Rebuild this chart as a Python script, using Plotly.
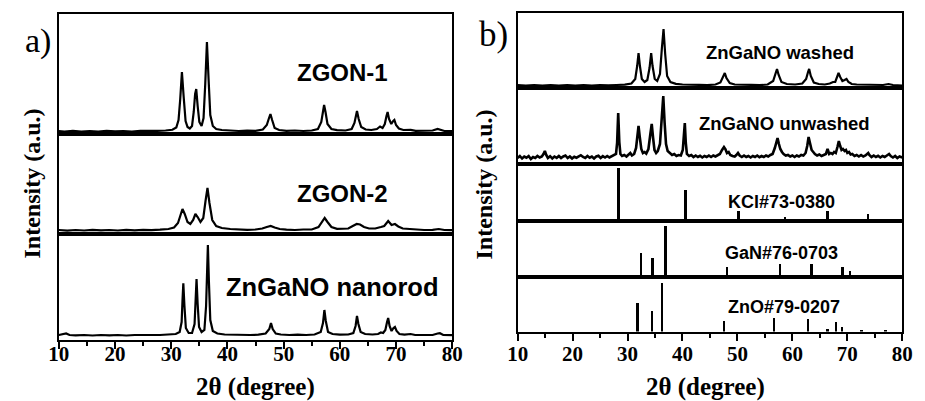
import plotly.graph_objects as go

# ---------------- data (2theta, intensity a.u.) ----------------
zgon1 = [(10,1),(11,0.5),(12.5,1.2),(14,0.4),(15.5,1),(17,0.5),(18.5,1.2),(20,0.6),(21.5,1),(23,0.5),(24.5,1.2),(26,0.8),(27.5,1.1),(29,1.5),(30.2,2.2),(30.9,4.5),(31.3,12),(31.6,33),(31.9,60),(32.2,36),(32.55,11),(32.9,5),(33.3,3.5),(33.7,6),(34.0,20),(34.25,38),(34.45,43),(34.7,26),(35.0,10),(35.4,6),(35.75,14),(36.05,48),(36.35,90),(36.65,52),(36.95,17),(37.4,6),(38.0,3),(39,2),(40.5,1.2),(42,1),(43.5,1.4),(45,1.2),(46.3,2.5),(47.0,7),(47.4,14),(47.65,18),(47.95,12),(48.4,4),(49.2,2),(50.5,1.2),(52,1.5),(53.5,1),(55,1.5),(56.1,3),(56.7,10),(57.0,20),(57.2,27),(57.45,20),(57.8,8),(58.5,3),(59.5,1.8),(61,1.5),(62.1,3),(62.6,9),(62.9,18),(63.05,21),(63.35,13),(63.8,5),(64.6,2.5),(65.6,2),(66.6,3),(67.15,5.5),(67.6,4),(68.0,8),(68.3,16),(68.5,20),(68.75,13),(69.15,8),(69.5,11),(69.7,12),(70.0,7),(70.5,3.5),(71.3,2),(72.6,2.2),(73.5,1.2),(75,1),(76.5,1.5),(77.4,3),(77.8,2.5),(78.6,1),(80,0.8)]

zgon2 = [(10,1),(11.5,0.4),(13,1),(14.5,0.5),(16,1.2),(17.5,0.6),(19,1),(20.5,0.5),(22,1.1),(23.5,0.6),(25,1.2),(26.5,0.8),(28,1.3),(29.5,2),(30.5,3.5),(31.2,8),(31.6,15),(32.0,22),(32.4,17),(32.9,9),(33.4,7),(33.9,11),(34.3,17),(34.7,14),(35.2,9),(35.7,13),(36.1,30),(36.45,43),(36.8,28),(37.3,11),(38.0,5),(39,3),(40.5,2),(42,1.5),(43.5,1.2),(45,1.5),(46.2,2.5),(47.0,4),(47.7,5),(48.4,3.5),(49.3,2),(50.5,1.3),(52,1),(53.5,1.5),(55,1.5),(56.2,4),(56.8,9),(57.3,13),(57.8,9),(58.5,4),(59.5,2.2),(60.5,2),(61.5,2.5),(62.3,5),(63.0,7),(63.6,6.5),(64.3,4),(65.2,2.5),(66.3,2.5),(67.3,4),(67.9,5),(68.6,10),(69.2,6),(69.8,7),(70.4,4.5),(71.2,2.5),(72.4,2),(73.5,1.2),(75,1),(76.5,1.2),(77.6,2),(78.6,1),(80,0.8)]

nanorod = [(10,1),(10.7,1.5),(11.3,2.5),(11.9,1),(13,0.6),(14.5,1),(16,0.5),(17.5,1),(19,0.6),(20.5,1),(22,0.5),(23.5,1),(25,0.7),(26.5,1),(28,1),(29.5,1.3),(30.8,2),(31.5,4),(31.85,14),(32.0,35),(32.15,52.7),(32.35,30),(32.6,8),(33.1,3),(33.7,3),(34.15,12),(34.35,38),(34.5,57),(34.7,32),(34.95,9),(35.4,4),(35.9,6),(36.2,30),(36.4,65),(36.52,91),(36.7,55),(36.95,16),(37.4,5),(38.2,2.5),(39.5,1.5),(41,1.2),(42.5,1),(44,1),(45.5,1.3),(46.8,2.5),(47.45,7),(47.75,13),(48.05,7),(48.6,2.5),(49.5,1.5),(51,1),(52.5,1.3),(54,1),(55.5,1.5),(56.6,4),(57.0,13),(57.25,26),(57.5,15),(57.9,4),(58.7,2),(60,1.3),(61.5,1.5),(62.4,3),(62.8,10),(63.05,20),(63.3,12),(63.7,4),(64.5,2),(65.8,1.5),(66.8,2),(67.3,3.5),(67.7,3),(68.1,6),(68.4,14),(68.6,18),(68.85,10),(69.2,5),(69.55,8),(69.8,9),(70.1,5),(70.6,2),(71.5,1.3),(72.6,2),(73.4,1),(75,0.8),(76.5,1),(77.4,2.5),(77.8,2.8),(78.4,1),(80,0.8)]

washed = [(10,0.8),(11.5,0.3),(13,1),(14.5,0.5),(16,1),(17.5,0.4),(19,0.8),(20.5,0.3),(22,1),(23.5,0.5),(25,1),(26.5,0.6),(28,1),(29.5,1.3),(30.7,2.5),(31.4,7),(31.75,20),(32.0,33),(32.25,20),(32.6,7),(33.1,4),(33.6,6),(34.0,18),(34.3,33),(34.55,20),(34.95,7),(35.4,5),(35.9,12),(36.25,38),(36.55,57),(36.85,32),(37.2,10),(37.8,4),(38.8,2.2),(40,1.5),(41.5,1),(43,1.2),(44.5,0.8),(46,1.5),(46.9,3.5),(47.4,9),(47.7,13),(48.0,8),(48.6,3),(49.5,1.5),(51,1),(52.5,1.2),(54,0.8),(55.5,1.5),(56.5,5),(56.95,13),(57.2,17),(57.5,11),(58.0,4),(59,2),(60.5,1.5),(61.8,2.5),(62.5,7),(62.85,14),(63.05,17),(63.35,10),(63.9,3.5),(64.8,2),(65.9,1.5),(66.8,2.5),(67.4,4),(67.8,4),(68.15,9),(68.4,13),(68.7,9),(69.1,5),(69.5,6),(69.85,7),(70.2,4),(70.8,2),(71.7,1.5),(72.6,1.5),(73.5,1),(75,0.8),(76.5,1),(77.5,2),(78.3,1),(80,0.5)]

unwashed = [(10,0),(10.4,2),(10.8,-0.5),(11.2,1.5),(11.6,0.3),(12.0,2),(12.4,-1),(12.8,1),(13.2,0),(13.6,2),(14.0,0.5),(14.4,1.5),(14.7,4),(14.95,7),(15.2,3),(15.5,0),(15.9,1.8),(16.3,-0.5),(16.7,1.5),(17.1,0.2),(17.5,2),(17.9,0),(18.3,1.5),(18.7,2.5),(19.1,0),(19.5,1.5),(19.9,-0.5),(20.3,1.2),(20.7,0.3),(21.1,1.8),(21.5,2.8),(21.9,1),(22.3,0),(22.7,2),(23.1,0.3),(23.5,1.5),(23.9,-0.5),(24.3,1.5),(24.7,2.2),(25.1,0),(25.5,1.8),(25.9,0.5),(26.3,2),(26.7,0.5),(27.1,1.8),(27.5,2.5),(27.9,4),(28.1,15),(28.3,45),(28.5,16),(28.7,4),(29.0,2),(29.4,3),(29.8,1.5),(30.2,3.5),(30.5,5),(30.8,2.5),(31.2,4),(31.55,10),(31.8,22),(32.0,32),(32.2,22),(32.5,9),(32.8,5),(33.1,6),(33.4,4.5),(33.8,9),(34.15,24),(34.4,34),(34.65,20),(34.9,8),(35.2,5),(35.5,7),(35.9,14),(36.25,40),(36.5,62),(36.75,35),(37.0,14),(37.3,7),(37.7,5),(38.1,3),(38.5,4),(38.9,2),(39.3,3),(39.7,2.5),(40.05,8),(40.25,22),(40.42,35),(40.6,15),(40.8,4),(41.2,2),(41.6,3),(42.0,1),(42.4,2.5),(42.8,1),(43.2,2.2),(43.6,0.5),(44.0,2),(44.4,1),(44.8,2.5),(45.2,1),(45.6,2.5),(46.0,1.5),(46.4,3),(46.8,4),(47.2,8),(47.55,11),(47.8,9),(48.1,5),(48.4,6),(48.7,3),(49.1,2),(49.5,1.5),(49.8,3),(50.1,5),(50.4,2.5),(50.8,1),(51.2,2.5),(51.6,1),(52.0,2),(52.4,0.5),(52.8,2),(53.2,1),(53.6,2.5),(54.0,0.8),(54.4,2),(54.8,1),(55.2,2.5),(55.6,1.5),(56.0,3),(56.4,4),(56.8,10),(57.1,17),(57.3,20),(57.55,14),(57.8,9),(58.1,6),(58.4,4),(58.8,2.5),(59.2,3),(59.6,1.5),(60.0,2.5),(60.4,1),(60.8,2.5),(61.2,1.5),(61.6,3),(62.0,2.5),(62.4,5),(62.7,12),(62.95,21),(63.2,15),(63.5,8),(63.8,6),(64.1,4),(64.5,2.5),(64.9,3.5),(65.3,2),(65.7,3),(66.1,4),(66.4,9),(66.7,4),(67.0,5),(67.3,4),(67.6,6),(67.9,5),(68.2,11),(68.45,17),(68.7,12),(68.95,8),(69.2,9),(69.5,7),(69.75,8),(70.0,5),(70.3,6),(70.6,3.5),(70.9,4),(71.3,2),(71.7,3),(72.1,1.5),(72.5,3),(72.9,1.5),(73.3,2.5),(73.6,4),(73.8,5),(74.0,3),(74.4,1),(74.8,2.5),(75.2,1),(75.6,2.2),(76.0,0.5),(76.4,2),(76.8,1),(77.2,2.5),(77.6,4),(77.9,2),(78.3,0.5),(78.7,2),(79.1,0),(79.5,1.5),(80,0.5)]

# reference stick patterns (JCPDS)
kcl_pos = [24.5, 28.35, 40.5, 50.2, 58.65, 66.4, 73.75]
kcl_int = [1, 53, 31.5, 10, 4, 10, 7]
gan_pos = [32.4, 34.55, 36.85, 48.1, 57.75, 63.45, 67.8, 69.1, 70.5, 72.9, 78.4]
gan_int = [24, 19, 51, 10, 13, 13, 2, 10, 6, 1, 2]
zno_pos = [31.75, 34.4, 36.25, 47.5, 56.6, 62.85, 66.35, 67.95, 69.05, 72.55, 76.95]
zno_int = [29, 21, 49, 11, 14, 12.5, 3, 10, 5, 1, 2]

labels_a = ["ZGON-1", "ZGON-2", "ZnGaNO nanorod"]
labels_b = ["ZnGaNO washed", "ZnGaNO unwashed", "KCl#73-0380", "GaN#76-0703", "ZnO#79-0207"]
x_ticks = [10, 20, 30, 40, 50, 60, 70, 80]

# ---------------- layout geometry (pixels) ----------------
W, H = 925, 401
SERIF = "Liberation Serif"
SANS = "Liberation Sans"

def fy(p):
    return 1 - p / H

# (x0, x1, top, bottom, baseline)
rows = [
    (49, 452, 14, 134, 132),
    (49, 452, 134, 234, 231),
    (49, 452, 234, 339.5, 336),
    (519, 913, 13, 88, 86),
    (519, 913, 88, 164, 158),
    (519, 913, 164, 221, 221),
    (519, 913, 221, 277, 277),
    (519, 913, 277, 331.5, 331.5),
]
standoff = {2: -13, 7: -5}

fig = go.Figure()
curves = [zgon1, zgon2, nanorod, washed, unwashed]
widths = [2.2, 2.2, 2.2, 2.2, 2.6]
for i, c in enumerate(curves):
    xs, ys = zip(*c)
    fig.add_trace(go.Scatter(x=list(xs), y=list(ys), mode="lines",
                             line=dict(color="black", width=widths[i]),
                             xaxis=f"x{i+1}" if i else "x", yaxis=f"y{i+1}" if i else "y",
                             showlegend=False, hoverinfo="skip"))
for j, (p, v) in enumerate([(kcl_pos, kcl_int), (gan_pos, gan_int), (zno_pos, zno_int)]):
    k = 6 + j
    fig.add_trace(go.Bar(x=p, y=v, width=0.36, marker=dict(color="black", line=dict(width=0)),
                         xaxis=f"x{k}", yaxis=f"y{k}", showlegend=False, hoverinfo="skip"))

lay = {}
for i, (x0, x1, top, bot, base) in enumerate(rows):
    n = "" if i == 0 else str(i + 1)
    xa = dict(domain=[x0 / W, x1 / W], range=[10, 80], anchor=f"y{n}",
              showline=True, linecolor="black", linewidth=2, mirror=True,
              showgrid=False, zeroline=False, fixedrange=True)
    if i in standoff:
        xa.update(tickmode="array", tickvals=x_ticks, ticktext=[f"<b>{t}</b>" for t in x_ticks],
                  ticks="outside", ticklen=7, tickwidth=2,
                  tickcolor="black", ticklabelstandoff=standoff[i],
                  tickfont=dict(family=SERIF, size=21, color="black", weight="bold"),
                  minor=dict(ticks="outside", dtick=5, tick0=10, ticklen=4, tickwidth=2, tickcolor="black"))
    else:
        xa.update(showticklabels=False, ticks="")
    ya = dict(domain=[fy(bot), fy(top)], range=[-(bot - base), base - top], anchor=f"x{n}",
              showline=True, linecolor="black", linewidth=2, mirror=True,
              showgrid=False, zeroline=False, showticklabels=False, ticks="", fixedrange=True)
    lay[f"xaxis{n}"] = xa
    lay[f"yaxis{n}"] = ya

fig.update_layout(**lay)

ann = []
def txt(t, x, y, size, fam, bold=True, angle=0):
    ann.append(dict(text=(f"<b>{t}</b>" if bold else t), x=x / W, y=fy(y), xref="paper", yref="paper",
                    xanchor="center", yanchor="middle", showarrow=False, textangle=angle,
                    font=dict(family=fam, size=size, color="black")))

txt(labels_a[0], 340, 72, 24, SANS)
txt(labels_a[1], 340, 193, 24, SANS)
txt(labels_a[2], 329, 287, 25.5, SANS)
txt(labels_b[0], 788, 53, 18.5, SANS)
txt(labels_b[1], 792, 123, 18.5, SANS)
txt(labels_b[2], 789, 202, 18, SANS)
txt(labels_b[3], 789, 253, 18, SANS)
txt(labels_b[4], 792, 307, 18, SANS)
txt("a)", 28, 41, 34, SERIF, bold=False)
txt("b)", 494, 34, 35, SERIF, bold=False)
txt("2θ (degree)", 250, 387, 25, SERIF)
txt("2θ (degree)", 711, 387, 25, SERIF)
txt("Intensity (a.u.)", 22, 183, 24, SERIF, angle=-90)
txt("Intensity (a.u.)", 485, 184, 24, SERIF, angle=-90)

fig.update_layout(width=W, height=H, margin=dict(l=0, r=0, t=0, b=0),
                  font=dict(family=SERIF, color="black"),
                  paper_bgcolor="white", plot_bgcolor="white", annotations=ann,
                  bargap=0)
fig.write_html("out.html", config={"displayModeBar": False},
               post_script="document.body.style.margin='0';document.body.style.padding='0';")
